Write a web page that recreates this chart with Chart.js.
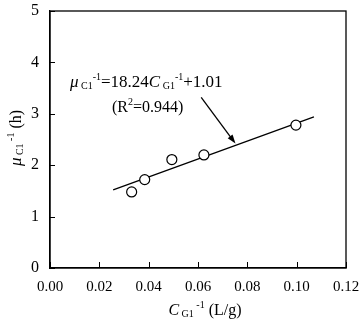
<!DOCTYPE html>
<html>
<head>
<meta charset="utf-8">
<script src="https://cdn.jsdelivr.net/npm/chart.js@4"></script>
<style>
  body { margin: 0; background: #fff; }
  #wrap { width: 360px; height: 322px; }
</style>
</head>
<body>
<div id="wrap"><canvas id="myChart"></canvas></div>
<script>
var xValues = [0.0331, 0.0384, 0.0494, 0.0624, 0.0997];
var yValues = [1.48, 1.72, 2.11, 2.20, 2.78];
var fitX = [0.0256, 0.1070];
var fitY = [1.52, 2.94];
var arrowFrom = [0.0613, 3.32];
var arrowTo = [0.0752, 2.42];
var xTicks = [0, 0.02, 0.04, 0.06, 0.08, 0.10, 0.12];
var yTicks = [0, 1, 2, 3, 4, 5];

var SERIF = '"Liberation Serif", "Times New Roman", serif';

function segFont(s) {
  return (s.italic ? 'italic ' : '') + s.size + 'px ' + SERIF;
}
function drawRich(ctx, segs, x, y, align) {
  var total = 0;
  segs.forEach(function (s) { ctx.font = segFont(s); total += ctx.measureText(s.t).width; });
  var cx = align === 'center' ? x - total / 2 : x;
  ctx.textAlign = 'left';
  ctx.textBaseline = 'alphabetic';
  segs.forEach(function (s) {
    ctx.font = segFont(s);
    ctx.fillText(s.t, cx, y + (s.dy || 0));
    cx += ctx.measureText(s.t).width;
  });
}

var extras = {
  id: 'extras',
  afterDatasetsDraw: function (chart) {
    var ctx = chart.ctx, xs = chart.scales.x, ys = chart.scales.y, a = chart.chartArea;
    ctx.save();
    ctx.fillStyle = '#000';
    ctx.strokeStyle = '#000';

    // arrow
    var x1 = xs.getPixelForValue(arrowFrom[0]), y1 = ys.getPixelForValue(arrowFrom[1]);
    var x2 = xs.getPixelForValue(arrowTo[0]), y2 = ys.getPixelForValue(arrowTo[1]);
    var ang = Math.atan2(y2 - y1, x2 - x1);
    ctx.lineWidth = 1.3;
    ctx.beginPath();
    ctx.moveTo(x1, y1);
    ctx.lineTo(x2 - 6 * Math.cos(ang), y2 - 6 * Math.sin(ang));
    ctx.stroke();
    ctx.beginPath();
    ctx.moveTo(x2, y2);
    ctx.lineTo(x2 - 9 * Math.cos(ang) + 3 * Math.sin(ang), y2 - 9 * Math.sin(ang) - 3 * Math.cos(ang));
    ctx.lineTo(x2 - 9 * Math.cos(ang) - 3 * Math.sin(ang), y2 - 9 * Math.sin(ang) + 3 * Math.cos(ang));
    ctx.closePath();
    ctx.fill();

    // equation
    drawRich(ctx, [
      { t: 'μ', size: 17, italic: true },
      { t: ' C1', size: 10, dy: 2 },
      { t: '-1', size: 10, dy: -7 },
      { t: '=18.24', size: 17 },
      { t: 'C', size: 17, italic: true },
      { t: ' G1', size: 10, dy: 2 },
      { t: '-1', size: 10, dy: -7 },
      { t: '+1.01', size: 17 }
    ], 70, 87, 'left');
    drawRich(ctx, [
      { t: '(R', size: 16 },
      { t: '2', size: 10, dy: -7 },
      { t: '=0.944)', size: 16 }
    ], 112, 112, 'left');

    // frame and inward ticks
    ctx.lineWidth = 1.3;
    ctx.strokeRect(a.left, a.top, a.right - a.left, a.bottom - a.top);
    ctx.lineWidth = 1;
    xTicks.forEach(function (v) {
      var px = Math.round(xs.getPixelForValue(v)) + 0.5;
      ctx.beginPath(); ctx.moveTo(px, a.bottom); ctx.lineTo(px, a.bottom - 6); ctx.stroke();
    });
    yTicks.forEach(function (v) {
      var py = Math.round(ys.getPixelForValue(v)) + 0.5;
      ctx.beginPath(); ctx.moveTo(a.left, py); ctx.lineTo(a.left + 5, py); ctx.stroke();
    });

    // axis titles
    drawRich(ctx, [
      { t: 'C', size: 16, italic: true },
      { t: ' G1', size: 10, dy: 2 },
      { t: ' -1', size: 10, dy: -7 },
      { t: ' (L/g)', size: 16 }
    ], 205, 315, 'center');
    ctx.translate(21, 138);
    ctx.rotate(-Math.PI / 2);
    drawRich(ctx, [
      { t: 'μ', size: 17, italic: true },
      { t: ' C1', size: 10, dy: 2 },
      { t: ' -1', size: 10, dy: -7 },
      { t: ' (h)', size: 16 }
    ], 0, 0, 'center');
    ctx.restore();
  }
};

var points = xValues.map(function (x, i) { return { x: x, y: yValues[i] }; });
var fitLine = fitX.map(function (x, i) { return { x: x, y: fitY[i] }; });

var ctx = document.getElementById('myChart').getContext('2d');
var myChart = new Chart(ctx, {
  type: 'scatter',
  data: {
    datasets: [{
      type: 'line',
      data: fitLine,
      borderColor: '#000',
      borderWidth: 1.3,
      pointRadius: 0,
      fill: false,
      order: 2
    }, {
      data: points,
      pointRadius: 5,
      pointBackgroundColor: '#fff',
      pointBorderColor: '#000',
      pointBorderWidth: 1.2,
      order: 1
    }]
  },
  options: {
    responsive: true,
    maintainAspectRatio: false,
    animation: false,
    layout: { padding: { top: 11, right: 14, left: 0, bottom: 0 } },
    plugins: { legend: { display: false }, tooltip: { enabled: false } },
    scales: {
      x: {
        type: 'linear',
        min: 0,
        max: 0.12,
        afterBuildTicks: function (s) { s.ticks = xTicks.map(function (v) { return { value: v }; }); },
        afterFit: function (s) { s.height = 54; s.paddingLeft = 0; s.paddingRight = 0; },
        grid: { drawOnChartArea: false, drawTicks: false },
        border: { color: '#000', width: 1.3 },
        ticks: {
          padding: 10,
          color: '#000',
          font: { family: SERIF, size: 15 },
          callback: function (v) { return v.toFixed(2); }
        }
      },
      y: {
        min: 0,
        max: 5,
        afterBuildTicks: function (s) { s.ticks = yTicks.map(function (v) { return { value: v }; }); },
        afterFit: function (s) { s.width = 50; s.paddingTop = 0; s.paddingBottom = 0; },
        grid: { drawOnChartArea: false, drawTicks: false },
        border: { color: '#000', width: 1.3 },
        ticks: {
          padding: 11,
          color: '#000',
          font: { family: SERIF, size: 16 }
        }
      }
    }
  },
  plugins: [extras]
});
</script>
</body>
</html>
